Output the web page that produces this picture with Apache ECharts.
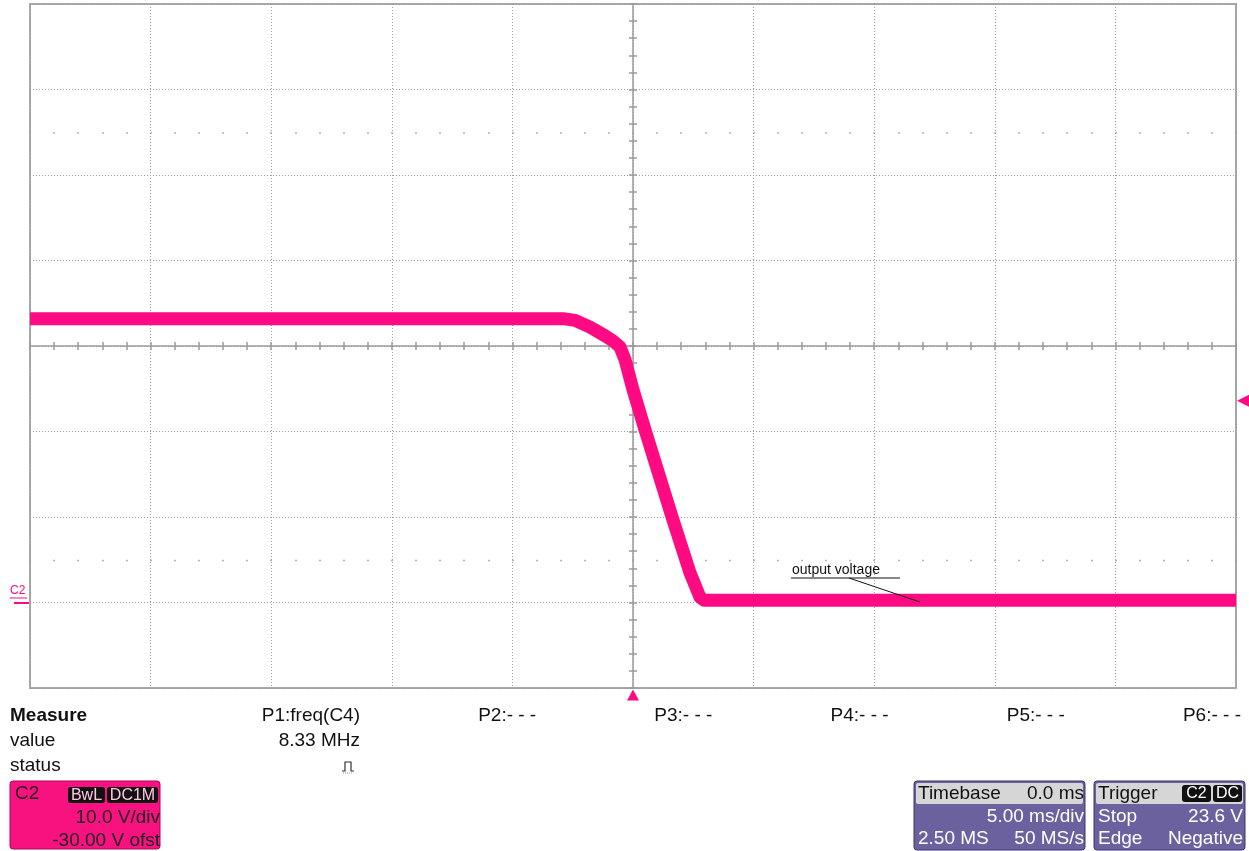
<!DOCTYPE html>
<html>
<head>
<meta charset="utf-8">
<script src="https://cdn.jsdelivr.net/npm/echarts@6/dist/echarts.min.js"></script>
<style>
html,body{margin:0;padding:0;background:#fff;}
#chart{width:1249px;height:851px;}
</style>
</head>
<body>
<div id="chart"></div>
<script>
// ---- data (time in ms, voltage in V) ----
const timeMs = [-25, -2.9, -2.4, -1.78, -1.16, -0.83, -0.54, -0.33, 0, 0.5, 1.62, 2.36, 2.78, 2.95, 25];
const voltsV = [33.2, 33.2, 33.0, 32.2, 31.2, 30.6, 29.9, 28.4, 24.9, 20.2, 10.0, 3.5, 0.6, 0.25, 0.25];
const triggerTime = 0;
const triggerLevel = 23.6;
const xRange = [-25, 25];      // 5 ms/div, 10 divisions
const yRange = [-10, 70];      // 10 V/div, -30 V offset
const measureLabels = ['P1:freq(C4)', 'P2:- - -', 'P3:- - -', 'P4:- - -', 'P5:- - -', 'P6:- - -'];
const measureValues = ['8.33 MHz', '', '', '', '', ''];
const channelInfo = ['C2', 'BwL', 'DC1M', '10.0 V/div', '-30.00 V ofst'];
const timebaseInfo = ['Timebase', '0.0 ms', '5.00 ms/div', '2.50 MS', '50 MS/s'];
const triggerInfo = ['Trigger', 'C2', 'DC', 'Stop', '23.6 V', 'Edge', 'Negative'];
const annotationText = 'output voltage';

const FONT = '"Liberation Sans", Arial, sans-serif';
const PINK = '#ff0a82';
const GRIDC = '#9c9c9c';
const PURPLE = '#6b619f';

const chart = echarts.init(document.getElementById('chart'), null, {renderer: 'canvas'});

function hiddenAxis(extra) {
  return Object.assign({
    type: 'value', show: true,
    axisLabel: {show: false}, splitLine: {show: false},
    axisLine: {show: false}, axisTick: {show: false}
  }, extra);
}

const gridTop = 4, gridLeft = 30, gridW = 1206, gridH = 684;

const graphics = [];
function txt(x, y, text, opt) {
  graphics.push({type: 'text', x: x, y: y, z: 100, style: Object.assign({
    text: text, font: '19px ' + FONT, fill: '#111', textVerticalAlign: 'middle', textAlign: 'left'
  }, opt || {})});
}
function rect(x, y, w, h, fill, opt) {
  graphics.push({type: 'rect', z: 90, shape: {x: x, y: y, width: w, height: h, r: (opt && opt.r) || 0},
    style: {fill: fill, stroke: (opt && opt.stroke) || null, lineWidth: (opt && opt.lw) || 0}});
}

// measure table
txt(10, 716, 'Measure', {font: 'bold 19px ' + FONT});
txt(10, 741, 'value');
txt(10, 766, 'status');
measureLabels.forEach((m, i) => {
  const xr = 360 + i * 176.2;
  txt(xr, 716, m, {textAlign: 'right'});
  if (measureValues[i]) txt(xr, 741, measureValues[i], {textAlign: 'right'});
});
// status pulse icon
graphics.push({type: 'polyline', z: 100, shape: {points: [[342, 771], [345, 771], [345, 762], [351, 762], [351, 771], [354, 771]]},
  style: {stroke: '#333', lineWidth: 1.2, fill: null}});
graphics.push({type: 'line', z: 100, shape: {x1: 343, y1: 773, x2: 353, y2: 773}, style: {stroke: '#999', lineWidth: 1, lineDash: [1, 1]}});

// channel box
rect(10, 781, 150, 68, '#f7127f', {stroke: '#b0005a', lw: 1, r: 3});
txt(15, 794, channelInfo[0], {fill: '#222'});
rect(68, 787, 37, 16, '#111', {r: 3});
txt(86.5, 795.5, channelInfo[1], {fill: '#ffc6e2', textAlign: 'center', font: '16px ' + FONT});
rect(107, 787, 51, 16, '#111', {r: 3});
txt(132.5, 795.5, channelInfo[2], {fill: '#ffc6e2', textAlign: 'center', font: '16px ' + FONT});
txt(160, 818, channelInfo[3], {textAlign: 'right', fill: '#222'});
txt(160, 841, channelInfo[4], {textAlign: 'right', fill: '#222'});

// timebase box
rect(914, 781, 171, 69, PURPLE, {stroke: '#3e3570', lw: 1, r: 3});
rect(916, 783, 167, 21, '#d6d6d6', {r: 2});
txt(918, 794, timebaseInfo[0], {fill: '#111'});
txt(1084, 794, timebaseInfo[1], {fill: '#111', textAlign: 'right'});
txt(1084, 817, timebaseInfo[2], {fill: '#fff', textAlign: 'right'});
txt(918, 839, timebaseInfo[3], {fill: '#fff'});
txt(1084, 839, timebaseInfo[4], {fill: '#fff', textAlign: 'right'});

// trigger box
rect(1094, 781, 151, 69, PURPLE, {stroke: '#3e3570', lw: 1, r: 3});
rect(1096, 783, 147, 21, '#d6d6d6', {r: 2});
txt(1098, 794, triggerInfo[0], {fill: '#111'});
rect(1182, 785, 29, 17, '#111', {r: 3});
txt(1196.5, 794, triggerInfo[1], {fill: '#fff', textAlign: 'center', font: '16px ' + FONT});
rect(1213, 785, 29, 17, '#111', {r: 3});
txt(1227.5, 794, triggerInfo[2], {fill: '#fff', textAlign: 'center', font: '16px ' + FONT});
txt(1098, 817, triggerInfo[3], {fill: '#fff'});
txt(1243, 817, triggerInfo[4], {fill: '#fff', textAlign: 'right'});
txt(1098, 839, triggerInfo[5], {fill: '#fff'});
txt(1243, 839, triggerInfo[6], {fill: '#fff', textAlign: 'right'});

// C2 ground marker label
txt(10, 591, 'C2', {fill: PINK, font: '12px ' + FONT});
graphics.push({type: 'line', z: 100, shape: {x1: 10, y1: 598, x2: 27, y2: 598}, style: {stroke: PINK, lineWidth: 1}});
graphics.push({type: 'line', z: 100, shape: {x1: 14, y1: 603, x2: 29, y2: 603}, style: {stroke: PINK, lineWidth: 2}});

// annotation
txt(792, 570, annotationText, {font: '14px ' + FONT, fill: '#111'});
graphics.push({type: 'line', z: 100, shape: {x1: 791, y1: 578, x2: 900, y2: 578}, style: {stroke: '#111', lineWidth: 1}});
graphics.push({type: 'line', z: 100, shape: {x1: 849, y1: 578, x2: 920, y2: 602}, style: {stroke: '#111', lineWidth: 1}});

const option = {
  animation: false,
  backgroundColor: '#ffffff',
  grid: {left: gridLeft, top: gridTop, width: gridW, height: gridH, show: true,
         borderColor: '#a8a8a8', borderWidth: 2, backgroundColor: '#fff'},
  xAxis: [
    hiddenAxis({min: xRange[0], max: xRange[1], interval: 5,
      splitLine: {show: true, lineStyle: {color: GRIDC, width: 1, type: [1, 2]}}}),
    hiddenAxis({min: xRange[0], max: xRange[1], interval: 1,
      axisLine: {show: true, onZero: true, onZeroAxisIndex: 1, lineStyle: {color: '#9a9a9a', width: 1.5}},
      axisTick: {show: true, inside: true, length: 4, lineStyle: {color: '#9a9a9a', width: 1.5}}}),
    hiddenAxis({min: xRange[0], max: xRange[1], interval: 1,
      axisLine: {show: false, onZero: true, onZeroAxisIndex: 1},
      axisTick: {show: true, inside: false, length: 4, lineStyle: {color: '#9a9a9a', width: 1.5}}}),
    hiddenAxis({min: xRange[0], max: xRange[1], interval: 1,
      axisLine: {show: false, onZero: true, onZeroAxisIndex: 3},
      axisTick: {show: true, inside: true, length: 1.5, lineStyle: {color: '#999', width: 1.5}}}),
    hiddenAxis({min: xRange[0], max: xRange[1], interval: 1,
      axisLine: {show: false, onZero: true, onZeroAxisIndex: 4},
      axisTick: {show: true, inside: true, length: 1.5, lineStyle: {color: '#999', width: 1.5}}})
  ],
  yAxis: [
    hiddenAxis({min: yRange[0], max: yRange[1], interval: 10,
      splitLine: {show: true, lineStyle: {color: GRIDC, width: 1, type: [1, 2]}}}),
    hiddenAxis({min: -40, max: 40, interval: 2,
      axisLine: {show: true, onZero: true, onZeroAxisIndex: 0, lineStyle: {color: '#9a9a9a', width: 1.5}},
      axisTick: {show: true, inside: true, length: 4, lineStyle: {color: '#9a9a9a', width: 1.5}}}),
    hiddenAxis({min: -40, max: 40, interval: 2,
      axisLine: {show: false, onZero: true, onZeroAxisIndex: 0},
      axisTick: {show: true, inside: false, length: 4, lineStyle: {color: '#9a9a9a', width: 1.5}}}),
    hiddenAxis({min: -65, max: 15, interval: 10, axisLine: {show: false, onZero: false}}),
    hiddenAxis({min: -15, max: 65, interval: 10, axisLine: {show: false, onZero: false}})
  ],
  series: [{
    type: 'line',
    xAxisIndex: 0, yAxisIndex: 0,
    data: timeMs.map((t, i) => [t, voltsV[i]]),
    showSymbol: false,
    clip: true,
    z: 10,
    lineStyle: {color: PINK, width: 13, join: 'round', cap: 'butt'},
    markPoint: {
      silent: true,
      label: {show: false},
      itemStyle: {color: PINK},
      data: [
        {coord: [triggerTime, yRange[0]], symbol: 'triangle', symbolSize: [12, 11], symbolOffset: [0, 7]},
        {coord: [xRange[1], triggerLevel], symbol: 'triangle', symbolRotate: 90, symbolSize: [12, 12], symbolOffset: [7, 0]}
      ]
    }
  }],
  graphic: graphics
};
chart.setOption(option);
</script>
</body>
</html>
